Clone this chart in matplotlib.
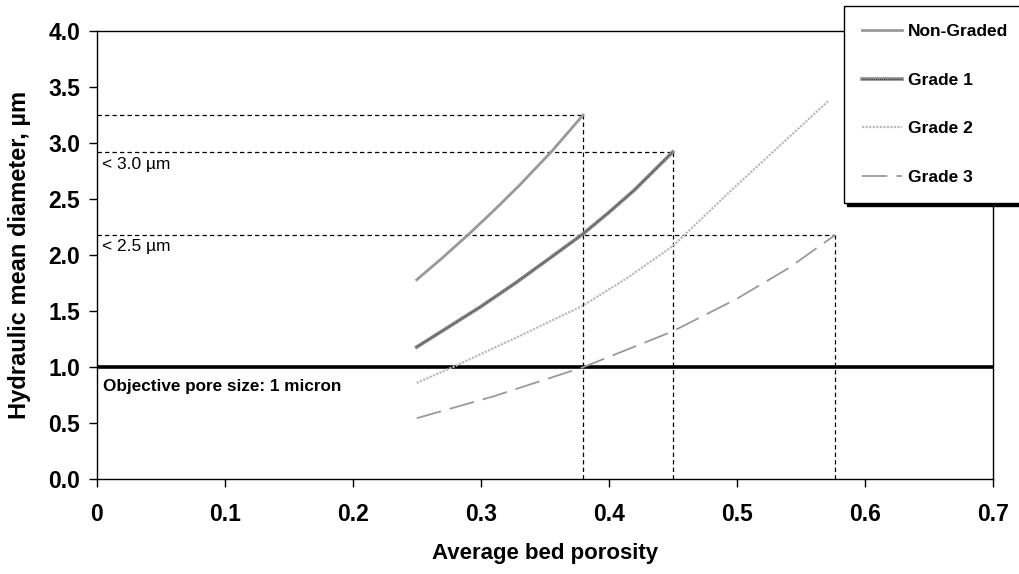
import matplotlib
matplotlib.use('Agg')
import matplotlib.pyplot as plt
import matplotlib.ticker as mticker

# Data
porosity_ng = [0.25, 0.27, 0.29, 0.31, 0.33, 0.355, 0.38]
diam_ng = [1.78, 1.975, 2.18, 2.395, 2.62, 2.92, 3.25]

porosity_g1 = [0.25, 0.275, 0.30, 0.327, 0.35, 0.38, 0.40, 0.42, 0.45]
diam_g1 = [1.18, 1.36, 1.54, 1.75, 1.94, 2.19, 2.38, 2.58, 2.92]

porosity_g2 = [0.25, 0.28, 0.327, 0.38, 0.415, 0.45, 0.495, 0.534, 0.572]
diam_g2 = [0.86, 1.01, 1.26, 1.55, 1.80, 2.08, 2.57, 2.98, 3.38]

porosity_g3 = [0.25, 0.31, 0.38, 0.45, 0.50, 0.54, 0.577]
diam_g3 = [0.545, 0.74, 1.00, 1.32, 1.61, 1.88, 2.18]

cutoff_x = [0.38, 0.45, 0.577]
cutoff_y = [3.25, 2.92, 2.18]
objective = 1.0

x_ticks = [0, 0.1, 0.2, 0.3, 0.4, 0.5, 0.6, 0.7]
x_tick_labels = ['0', '0.1', '0.2', '0.3', '0.4', '0.5', '0.6', '0.7']
y_ticks = [0.0, 0.5, 1.0, 1.5, 2.0, 2.5, 3.0, 3.5, 4.0]

plt.rcParams['font.family'] = ['Liberation Sans', 'DejaVu Sans']

fig = plt.figure(figsize=(10.2, 5.74), dpi=100)
fig.patch.set_facecolor('white')
ax = fig.add_axes([0.0948, 0.165, 0.9732 - 0.0948, 0.946 - 0.165])

# Reference cut-off lines
for cx, cy in zip(cutoff_x, cutoff_y):
    ax.plot([0, cx], [cy, cy], color='black', linewidth=0.9, linestyle=(0, (3.5, 2.5)), zorder=2)
    ax.plot([cx, cx], [0, cy], color='black', linewidth=0.9, linestyle=(0, (3.5, 2.5)), zorder=2)

# Objective pore size line
ax.axhline(objective, color='black', linewidth=2.6, zorder=3)

# Series
l_ng, = ax.plot(porosity_ng, diam_ng, color='#999999', linewidth=2.0, zorder=4)
l_g1a, = ax.plot(porosity_g1, diam_g1, color='#8a8a8a', linewidth=2.6, zorder=4)
l_g1b, = ax.plot(porosity_g1, diam_g1, color='#333333', linewidth=0.7,
                 linestyle=(0, (1, 1)), zorder=5)
l_g2, = ax.plot(porosity_g2, diam_g2, color='#bbbbbb', linewidth=1.6,
                linestyle=(0, (1, 0.6)), zorder=4)
l_g3, = ax.plot(porosity_g3, diam_g3, color='#9a9a9a', linewidth=1.3,
                linestyle=(0, (14, 5)), zorder=4)

# Annotations
ax.text(0.004, 2.81, '< 3.0 µm', fontsize=12.5, va='center', ha='left')
ax.text(0.004, 2.08, '< 2.5 µm', fontsize=12.5, va='center', ha='left')
ax.text(0.005, 0.83, 'Objective pore size: 1 micron', fontsize=12.3,
        fontweight='bold', va='center', ha='left')

# Axes formatting
ax.set_xlim(0, 0.7)
ax.set_ylim(0, 4.0)
ax.set_xticks(x_ticks)
ax.xaxis.set_major_formatter(mticker.FixedFormatter(x_tick_labels))
ax.set_yticks(y_ticks)
ax.yaxis.set_major_formatter(mticker.FormatStrFormatter('%.1f'))
ax.tick_params(axis='both', direction='out', length=6, width=1, labelsize=16.5)
ax.tick_params(axis='x', pad=11)
ax.tick_params(axis='y', pad=6)
for lab in ax.get_xticklabels() + ax.get_yticklabels():
    lab.set_fontweight('bold')
for spine in ax.spines.values():
    spine.set_linewidth(1.0)
    spine.set_color('black')

ax.set_xlabel('Average bed porosity', fontsize=16, fontweight='bold', labelpad=12)
ax.set_ylabel('Hydraulic mean diameter, µm', fontsize=17, fontweight='bold', labelpad=12)

# Legend box in top right corner
leg = fig.legend([l_ng, (l_g1a, l_g1b), l_g2, l_g3],
                 ['Non-Graded', 'Grade 1', 'Grade 2', 'Grade 3'],
                 loc='upper left', bbox_to_anchor=(844 / 1020, 1 - 6 / 574),
                 borderaxespad=0, fancybox=False, framealpha=1,
                 edgecolor='black', fontsize=12.5, handlelength=2.3,
                 handletextpad=0.35, labelspacing=1.92, borderpad=1.05,
                 shadow={'color': 'black', 'alpha': 1, 'ox': 2, 'oy': -2})
leg.get_frame().set_linewidth(1.0)
for t in leg.get_texts():
    t.set_fontweight('bold')

fig.savefig('out.png', dpi=100, facecolor='white')
